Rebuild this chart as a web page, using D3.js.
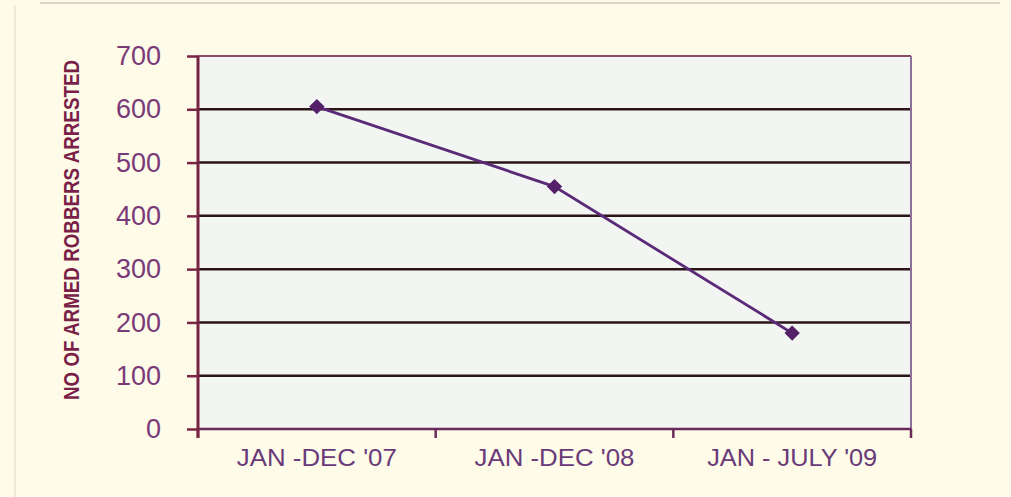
<!DOCTYPE html>
<html>
<head>
<meta charset="utf-8">
<script src="https://cdn.jsdelivr.net/npm/d3@7"></script>
<style>
  html, body { margin: 0; padding: 0; background: #fefbe9; }
  svg { display: block; }
</style>
</head>
<body>
<div id="chart"></div>
<script>
/* Armed robbers arrested, by period */
var periods = ["JAN -DEC '07", "JAN -DEC '08", "JAN - JULY '09"];
var arrested = [605, 455, 180];
var yTicks = [0, 100, 200, 300, 400, 500, 600, 700];

(function () {
  "use strict";

  var W = 1011, H = 497;
  var m = { l: 198, r: 100, t: 56, b: 68 };
  var iw = W - m.l - m.r, ih = H - m.t - m.b;

  var svg = d3.select("#chart").append("svg").attr("width", W).attr("height", H);

  // scanned-page edges
  svg.append("line").attr("x1", 40).attr("x2", 1000).attr("y1", 3).attr("y2", 3)
    .attr("stroke", "#d8d6cc").attr("stroke-width", 2);
  svg.append("line").attr("x1", 15).attr("x2", 15).attr("y1", 5).attr("y2", 497)
    .attr("stroke", "#e6e4d2").attr("stroke-width", 1.5);

  var g = svg.append("g").attr("transform", "translate(" + m.l + "," + m.t + ")");

  var x = d3.scaleBand().domain(periods).range([0, iw]);
  var y = d3.scaleLinear().domain([0, 700]).range([ih, 0]);

  // plot area
  g.append("rect").attr("width", iw).attr("height", ih).attr("fill", "#f2f5f1");

  // gridlines
  g.selectAll(".grid").data(yTicks.filter(function (d) { return d > 0 && d < 700; }))
    .enter().append("line")
    .attr("x1", 0).attr("x2", iw)
    .attr("y1", function (d) { return y(d); }).attr("y2", function (d) { return y(d); })
    .attr("stroke", "#2a1418").attr("stroke-width", 2.5);

  // top + right border
  g.append("line").attr("x1", 0).attr("x2", iw).attr("y1", y(700)).attr("y2", y(700))
    .attr("stroke", "#8a4a6a").attr("stroke-width", 2);
  g.append("line").attr("x1", iw).attr("x2", iw).attr("y1", 0).attr("y2", ih)
    .attr("stroke", "#8a709a").attr("stroke-width", 2);

  // axes
  var yAxis = g.append("g")
    .call(d3.axisLeft(y).tickValues(yTicks).tickSize(11).tickPadding(26));
  yAxis.select(".domain").remove();
  yAxis.selectAll(".tick line").attr("stroke", "#7a2444").attr("stroke-width", 2.5);
  yAxis.selectAll("text").attr("fill", "#7a3a78")
    .style("font-family", "'Liberation Sans', Arial, sans-serif").style("font-size", "27px");

  var xAxis = g.append("g").attr("transform", "translate(0," + ih + ")")
    .call(d3.axisBottom(x).tickSize(0).tickPadding(21));
  xAxis.select(".domain").remove();
  xAxis.selectAll("text").attr("fill", "#6a3a78")
    .style("font-family", "'Liberation Sans', Arial, sans-serif").style("font-size", "23px")
    .attr("textLength", 160).attr("lengthAdjust", "spacingAndGlyphs");
  xAxis.selectAll("text").filter(function (d) { return d === periods[2]; })
    .attr("textLength", 170);

  // x category separators
  var seps = [0].concat(periods.map(function (p) { return x(p) + x.bandwidth(); }));
  g.selectAll(".xsep").data(seps).enter().append("line")
    .attr("x1", function (d) { return d; }).attr("x2", function (d) { return d; })
    .attr("y1", ih).attr("y2", ih + 9)
    .attr("stroke", "#6a2a5a").attr("stroke-width", 2.5);

  g.append("line").attr("x1", 0).attr("x2", iw).attr("y1", ih).attr("y2", ih)
    .attr("stroke", "#6a2a5a").attr("stroke-width", 2.5);
  g.append("line").attr("x1", 0).attr("x2", 0).attr("y1", 0).attr("y2", ih + 9)
    .attr("stroke", "#7a2444").attr("stroke-width", 3);

  // series
  var pts = periods.map(function (p, i) { return { p: p, v: arrested[i] }; });
  var line = d3.line()
    .x(function (d) { return x(d.p) + x.bandwidth() / 2; })
    .y(function (d) { return y(d.v); });
  g.append("path").datum(pts).attr("fill", "none")
    .attr("stroke", "#5a2a78").attr("stroke-width", 2.8).attr("d", line);
  g.selectAll(".pt").data(pts).enter().append("path")
    .attr("d", d3.symbol(d3.symbolDiamond2, 150))
    .attr("transform", function (d) {
      return "translate(" + (x(d.p) + x.bandwidth() / 2) + "," + y(d.v) + ")";
    })
    .attr("fill", "#55206a");

  // y title
  svg.append("text")
    .attr("transform", "translate(79,230) rotate(-90)")
    .attr("text-anchor", "middle")
    .attr("fill", "#7a1f48")
    .attr("textLength", 340).attr("lengthAdjust", "spacingAndGlyphs")
    .style("font-family", "'Liberation Sans Narrow', 'Arial Narrow', sans-serif")
    .style("font-weight", "bold").style("font-size", "22px")
    .text("NO OF ARMED ROBBERS ARRESTED");
})();
</script>
</body>
</html>
